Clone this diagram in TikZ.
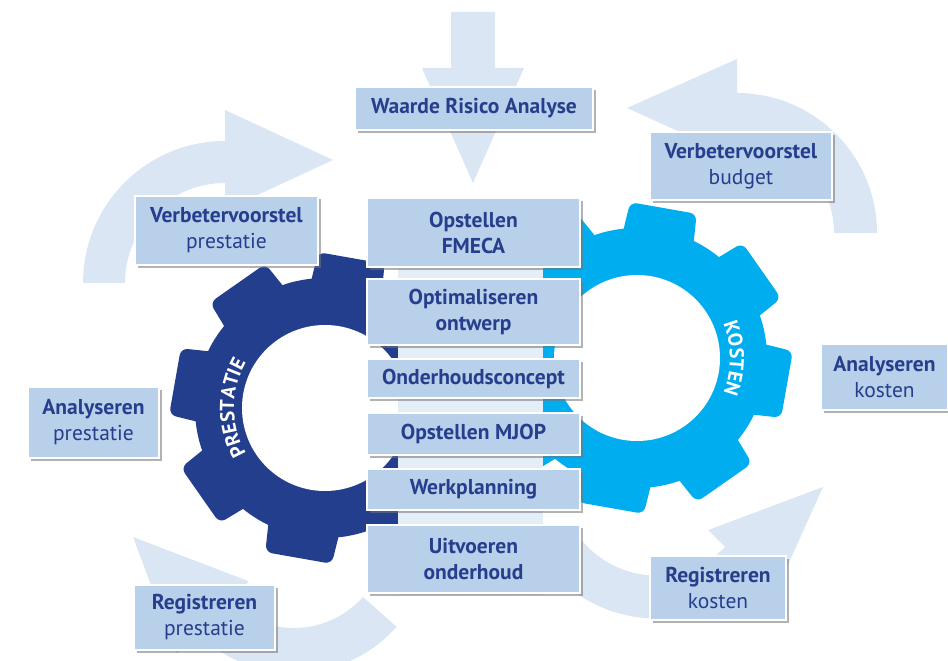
\documentclass[tikz,border=0pt]{standalone}
\usepackage{fontspec}
\setmainfont{PT Sans}
\usepackage{tikz}
\usetikzlibrary{calc,shadows,decorations.text}

\definecolor{boxblue}{HTML}{B8D0EA}
\definecolor{textblue}{HTML}{263E8C}
\definecolor{paleblue}{HTML}{DAE6F3}
\definecolor{prestatieblue}{HTML}{243E8E}
\definecolor{kostencyan}{HTML}{00AEEF}

\begin{document}
\begin{tikzpicture}[
        x=1pt, y=1pt,
        box/.style={draw=white, line width=1.5pt, fill=boxblue, text=textblue, align=center,
            inner sep=0pt, font=\fontsize{21.5pt}{26pt}\selectfont,
            drop shadow={shadow xshift=3pt, shadow yshift=-3pt, fill=black!55, opacity=0.55}},
        midbox/.style={box, minimum width=213pt},
        flow/.style={fill=paleblue},
        gearlabel/.style={decorate, decoration={text along path, text align=center, text color=white}}
    ]
    \useasboundingbox (0,0) rectangle (948,661);

    % centres of the flow arrows and of the gears
    \coordinate (tl) at (225,378);
    \coordinate (tr) at (737,428);
    \coordinate (bl) at (294,125);
    \coordinate (br) at (656.5,182.5);
    \coordinate (lgear) at (325,253);
    \coordinate (rgear) at (637,303);

    % light flow arrows
    \fill[flow] (451,649) -- (495,649) -- (495,593) -- (524,593) -- (473,478) -- (422,593) -- (451,593) -- cycle;
    \fill[flow] ($(tl)+(180:142pt)$) arc[start angle=180, end angle=90, radius=142pt]
        -- ($(tl)+(90:173pt)$) -- (333,501) -- ($(tl)+(90:73pt)$) -- ($(tl)+(90:100pt)$)
        arc[start angle=90, end angle=180, radius=100pt] -- cycle;
    \fill[flow] ($(tr)+(0:140pt)$) arc[start angle=0, end angle=90, radius=140pt]
        -- ($(tr)+(90:174pt)$) -- (627,553) -- ($(tr)+(90:75pt)$) -- ($(tr)+(90:97pt)$)
        arc[start angle=90, end angle=0, radius=97pt] -- cycle;
    \fill[flow] ($(bl)+(-41.5:137pt)$) arc[start angle=-41.5, end angle=-135, radius=137pt]
        -- ($(bl)+(-135:166pt)$) -- (133,124) -- ($(bl)+(-135:64pt)$) -- ($(bl)+(-135:92pt)$)
        arc[start angle=-135, end angle=-41.5, radius=92pt] -- cycle;
    \fill[flow] ($(br)+(-140:140pt)$) arc[start angle=-140, end angle=-45, radius=140pt]
        -- ($(br)+(-45:166pt)$) -- (823,174) -- ($(br)+(-45:73pt)$) -- ($(br)+(-45:97pt)$)
        arc[start angle=-45, end angle=-140, radius=97pt] -- cycle;

    % the two gears
    \foreach \g/\col in {lgear/prestatieblue, rgear/kostencyan} {
        \fill[\col] (\g) circle[radius=130pt];
        \foreach \a in {35,80,...,350}
            \fill[\col, rounded corners=7pt] ($(\g)+(\a-18:118pt)$) -- ($(\g)+(\a-12.5:156pt)$)
                -- ($(\g)+(\a+12.5:156pt)$) -- ($(\g)+(\a+18:118pt)$) -- cycle;
        \fill[white] (\g) circle[radius=83pt];
    }
    \path[gearlabel, decoration={text={|\fontsize{20pt}{20pt}\selectfont\bfseries|PRESTATIE}}]
        ($(lgear)+(215:91pt)$) arc[start angle=215, end angle=145, radius=91pt];
    \path[gearlabel, decoration={text={|\fontsize{20pt}{20pt}\selectfont\bfseries|KOSTEN}}]
        ($(rgear)+(30:93pt)$) arc[start angle=30, end angle=-30, radius=93pt];

    % pale panel behind the middle column
    \fill[paleblue!70!white] (398,66) rectangle (543,461);

    % steps
    \node[box, minimum width=238pt, minimum height=43pt] (waarde) at (474,552.5) {\textbf{Waarde Risico Analyse}};
    \node[midbox, minimum height=69pt] (fmeca) at (473.5,428.5) {\textbf{Opstellen}\\\textbf{FMECA}};
    \node[midbox, minimum height=66pt] (ontwerp) at (473.5,349) {\textbf{Optimaliseren}\\\textbf{ontwerp}};
    \node[midbox, minimum height=39pt] (concept) at (473.5,282.5) {\textbf{Onderhoudsconcept}};
    \node[midbox, minimum height=42pt] (mjop) at (473.5,227) {\textbf{Opstellen MJOP}};
    \node[midbox, minimum height=41pt] (planning) at (473.5,171.5) {\textbf{Werkplanning}};
    \node[midbox, minimum height=68pt] (uitvoeren) at (473.5,102) {\textbf{Uitvoeren}\\\textbf{onderhoud}};

    \node[box, minimum width=183pt, minimum height=69pt] (vprestatie) at (226.5,430.5) {\textbf{Verbetervoorstel}\\prestatie};
    \node[box, minimum width=182pt, minimum height=68pt] (vbudget) at (741,495) {\textbf{Verbetervoorstel}\\budget};
    \node[box, minimum width=131pt, minimum height=71pt] (aprestatie) at (93.5,238.5) {\textbf{Analyseren}\\prestatie};
    \node[box, minimum width=141pt, minimum height=65pt] (rprestatie) at (204.5,43.5) {\textbf{Registreren}\\prestatie};
    \node[box, minimum width=127pt, minimum height=66pt] (akosten) at (884.5,284) {\textbf{Analyseren}\\kosten};
    \node[box, minimum width=136pt, minimum height=64pt] (rkosten) at (718,73) {\textbf{Registreren}\\kosten};
\end{tikzpicture}
\end{document}
